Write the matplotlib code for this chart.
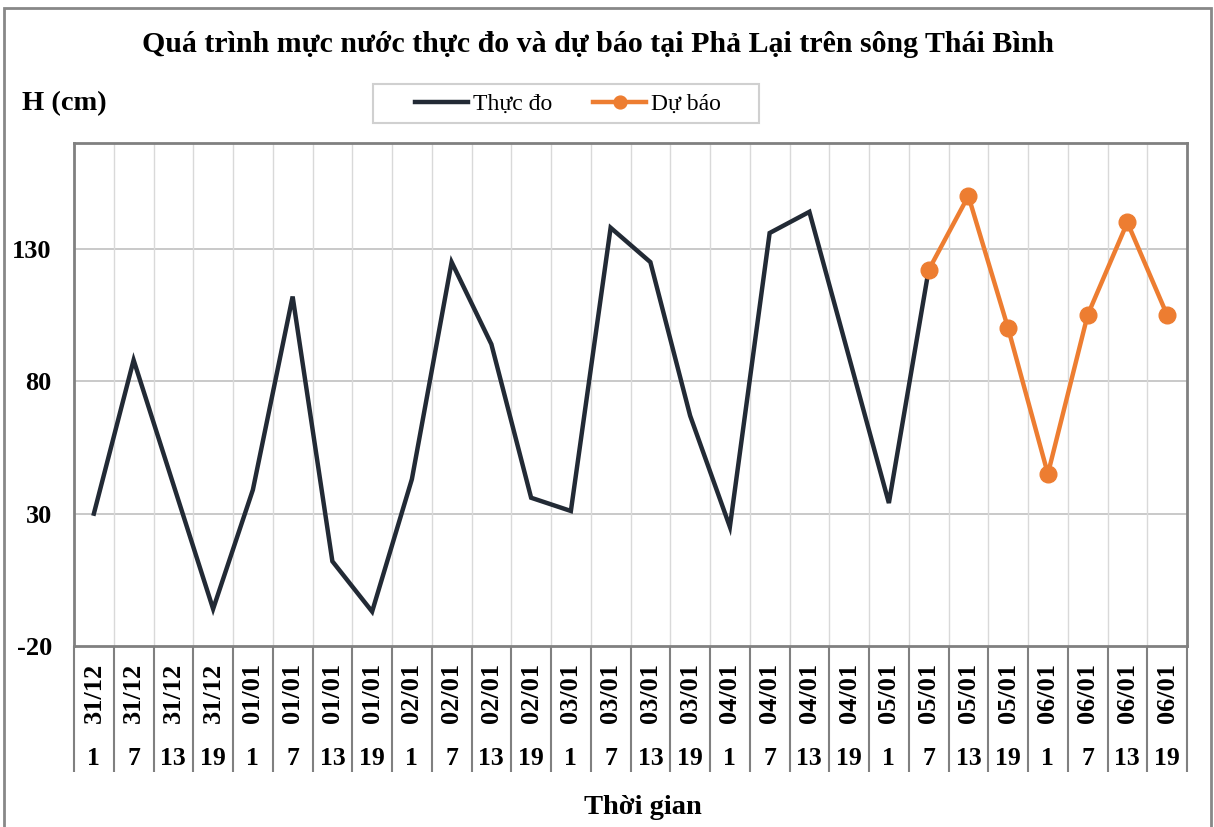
import matplotlib
matplotlib.use("Agg")
import matplotlib.pyplot as plt
from matplotlib.patches import Rectangle
from matplotlib.transforms import blended_transform_factory

# === Data ===
dates = ["31/12"] * 4 + ["01/01"] * 4 + ["02/01"] * 4 + ["03/01"] * 4 + \
        ["04/01"] * 4 + ["05/01"] * 4 + ["06/01"] * 4
hours = ["1", "7", "13", "19"] * 7

# observed (Thực đo), indices 0..21
observed = [30, 88, 41, -6, 39, 112, 12, -7, 43, 125, 94, 36, 31, 138,
            125, 67, 25, 136, 144, 89, 34, 122]
# forecast (Dự báo), indices 21..27
forecast = [122, 150, 100, 45, 105, 140, 105]

yticks = [-20, 30, 80, 130]

W, H = 1214, 827

# === Figure ===
plt.rcParams['font.family'] = ['Liberation Serif', 'DejaVu Serif']
fig = plt.figure(figsize=(W / 100, H / 100), dpi=100)
ax = fig.add_axes([74 / W, 181 / H, 1113 / W, 503 / H])

x_obs = list(range(len(observed)))
x_fc = list(range(len(observed) - 1, len(observed) - 1 + len(forecast)))

ax.plot(x_obs, observed, color="#222a35", lw=3.2, label="Thực đo",
        solid_joinstyle="miter", zorder=3)
ax.plot(x_fc, forecast, color="#ed7d31", lw=3.2, marker="o", ms=12,
        label="Dự báo", zorder=4)

ax.set_xlim(-0.5, len(dates) - 0.5)
ax.set_ylim(-20, 170)
ax.set_yticks(yticks)
ax.set_yticklabels([str(v) for v in yticks], fontsize=19, fontweight="bold")
ax.tick_params(axis="y", length=0, pad=16)

# horizontal gridlines
for v in yticks[1:]:
    ax.axhline(v, color="#c0c0c0", lw=1.2, zorder=1)
# vertical gridlines at category boundaries
for i in range(1, len(dates)):
    ax.axvline(i - 0.5, color="#d9d9d9", lw=1.0, zorder=1)

for s in ax.spines.values():
    s.set_color("#808080")
    s.set_linewidth(2)

# category labels: dates (rotated) on the major ticks, separators as minor ticks
ax.set_xticks(range(len(dates)))
ax.set_xticklabels(dates, rotation=90, fontsize=19, fontweight="bold")
ax.tick_params(axis="x", which="major", length=0, pad=12)
ax.set_xticks([i - 0.5 for i in range(len(dates) + 1)], minor=True)
ax.tick_params(axis="x", which="minor", length=91, width=1.5, color="#808080")

trans = blended_transform_factory(ax.transData, ax.transAxes)
for i, h in enumerate(hours):
    ax.text(i, -0.2227, h, transform=trans, ha="center", va="center",
            fontsize=18.5, fontweight="bold")

# title, axis labels
fig.text(598 / W, 1 - 45 / H,
         "Quá trình mực nước thực đo và dự báo tại Phả Lại trên sông Thái Bình",
         ha="center", va="center", fontsize=21.5, fontweight="bold")
fig.text(22 / W, 1 - 104 / H, "H (cm)", ha="left", va="center",
         fontsize=20.5, fontweight="bold")
fig.text(643 / W, 1 - 807 / H, "Thời gian", ha="center", va="center",
         fontsize=20.5, fontweight="bold")

# legend: frame drawn separately to match the reference box
fig.patches.append(Rectangle((373 / W, 1 - 123 / H), 386 / W, 39 / H,
                             transform=fig.transFigure, fill=False,
                             edgecolor="#d0d0d0", lw=1.5))
fig.legend(loc="center", bbox_to_anchor=(568 / W, 1 - 104 / H),
           ncol=2, fontsize=17, frameon=False,
           handlelength=2.25, handletextpad=0.21, columnspacing=1.74,
           markerscale=0.77)

# outer chart border
fig.patches.append(Rectangle((4 / W, -0.01), 1207 / W, 1 - 8 / H + 0.01,
                             transform=fig.transFigure, fill=False,
                             edgecolor="#888888", lw=2))

fig.savefig("out.png", dpi=100)
